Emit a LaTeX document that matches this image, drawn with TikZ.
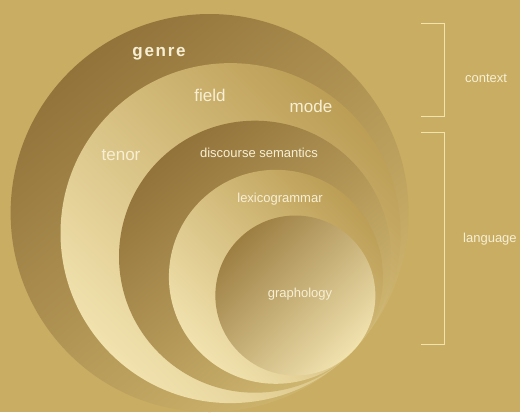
\documentclass[tikz,border=0pt]{standalone}
\usepackage{fontspec}
\setmainfont{Liberation Sans}
\newfontfamily\spacedfont[LetterSpace=10]{Liberation Sans}
\usepackage{xcolor}
\definecolor{gold}{HTML}{C8AD62}
\definecolor{ochre}{HTML}{92733A}
\definecolor{mustard}{HTML}{BC9E55}
\definecolor{straw}{HTML}{F1E2AE}
\definecolor{cream}{HTML}{F7EFD4}
\usepackage{tikz}
\usetikzlibrary{calc}

\begin{document}
\begin{tikzpicture}[x=1pt,y=1pt,
    lbl/.style={text=cream,inner sep=0pt,anchor=base},
    big/.style={lbl,font=\fontsize{17}{20}\selectfont},
    small/.style={lbl,font=\fontsize{13}{15}\selectfont},
    dark/.style={top color=ochre,bottom color=#1,shading angle=40},
    light/.style={top color=straw,bottom color=#1,shading angle=135},
    brace/.style={draw=straw,line width=1pt}]
    \fill[gold] (0,0) rectangle (520,412);
    % all circles touch in one point, bottom right
    \coordinate (T) at (353,61);
    \shade[dark=gold!85!straw]   ($(T)+(136.1:199)$) circle (199);
    \shade[light=mustard]        ($(T)+(136.1:170)$) circle (170);
    \shade[dark=gold!80!straw]   ($(T)+(136.1:136)$) circle (136);
    \shade[light=mustard]        ($(T)+(136.1:107)$) circle (107);
    \shade[top color=ochre!80!gold,bottom color=straw,shading angle=45] ($(T)+(136.1:80)$) circle (80);
    \node[big,font=\fontsize{17}{20}\selectfont\spacedfont\bfseries] (genre) at (159,355) {genre};
    \node[big] (field) at (210,310) {field};
    \node[big] (mode) at (311,299) {mode};
    \node[big] (tenor) at (121,251) {tenor};
    \node[small] (disc) at (259,254) {discourse semantics};
    \node[small] (lexi) at (280,209) {lexicogrammar};
    \node[small] (grapho) at (300,114) {graphology};
    % brackets on the right
    \draw[brace] (421,388) -- (444,388) -- (444,295) -- (421,295);
    \draw[brace] (421,279) -- (444,279) -- (444,67) -- (421,67);
    \node[small] (context) at (486,329) {context};
    \node[small,anchor=base west] (language) at (463,169) {language};
\end{tikzpicture}
\end{document}
